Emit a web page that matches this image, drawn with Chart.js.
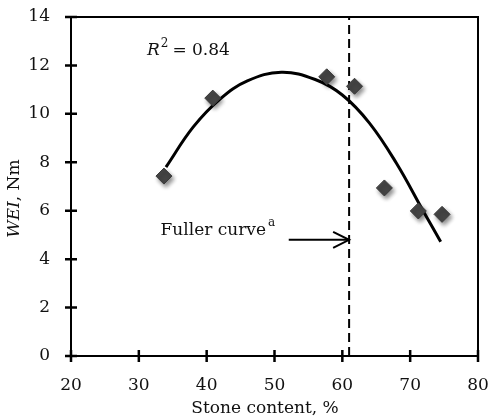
<!DOCTYPE html>
<html>
<head>
<meta charset="utf-8">
<script src="https://cdn.jsdelivr.net/npm/chart.js@4.4.1/dist/chart.umd.min.js"></script>
<style>
  html, body { margin: 0; padding: 0; background: #fff; }
  #wrap { width: 489px; height: 419px; }
</style>
</head>
<body>
<div id="wrap"><canvas id="wei"></canvas></div>
<script>
// measured samples: stone content (%) vs WEI (Nm)
const stoneContent = [33.7, 40.9, 57.7, 61.8, 66.2, 71.2, 74.7];
const weiValues = [7.43, 10.65, 11.53, 11.14, 6.94, 5.99, 5.85];

// second-order trend line, read along its length
const trendX = [34, 38, 42, 46, 51, 56, 60, 64, 68, 72, 74.5];
const trendY = [7.8, 9.45, 10.62, 11.36, 11.72, 11.42, 10.78, 9.62, 7.95, 5.95, 4.72];

// Fuller curve marker
const fullerX = 61;
const arrowFrom = 52.1;
const arrowY = 4.8;

const xTicks = [20, 30, 40, 50, 60, 70, 80];
const yTicks = [0, 2, 4, 6, 8, 10, 12, 14];

const SERIF = '"DejaVu Serif", "Liberation Serif", serif';

const pts = stoneContent.map((x, i) => ({ x: x, y: weiValues[i] }));
const trend = trendX.map((x, i) => ({ x: x, y: trendY[i] }));

// frame, crossing tick marks, arrow head, annotations and axis titles
const decorations = {
  id: 'decorations',
  beforeDatasetDraw(chart, args) {
    if (args.index === 0) {
      const ctx = chart.ctx;
      ctx.save();
      ctx.shadowColor = 'rgba(0,0,0,0.45)';
      ctx.shadowBlur = 4;
      ctx.shadowOffsetX = 2;
      ctx.shadowOffsetY = 3;
    }
  },
  afterDatasetDraw(chart, args) {
    if (args.index === 0) chart.ctx.restore();
  },
  afterDraw(chart) {
    const ctx = chart.ctx;
    const a = chart.chartArea;
    const xs = chart.scales.x, ys = chart.scales.y;
    ctx.save();
    ctx.strokeStyle = '#000';
    ctx.lineWidth = 2;
    ctx.strokeRect(a.left, a.top, a.right - a.left, a.bottom - a.top);

    ctx.lineWidth = 2.5;
    ctx.beginPath();
    yTicks.forEach(v => {
      const py = ys.getPixelForValue(v);
      ctx.moveTo(a.left - 6, py);
      ctx.lineTo(a.left + 6, py);
    });
    xTicks.forEach(v => {
      const px = xs.getPixelForValue(v);
      ctx.moveTo(px, a.bottom - 6);
      ctx.lineTo(px, a.bottom + 6);
    });
    ctx.stroke();

    // open arrow head
    const hx = xs.getPixelForValue(fullerX);
    const hy = ys.getPixelForValue(arrowY);
    ctx.lineWidth = 2;
    ctx.beginPath();
    ctx.moveTo(hx - 16, hy - 8);
    ctx.lineTo(hx, hy);
    ctx.lineTo(hx - 16, hy + 8);
    ctx.stroke();

    ctx.fillStyle = '#111';
    ctx.textBaseline = 'alphabetic';
    ctx.textAlign = 'left';

    // R² label
    let tx = xs.getPixelForValue(31.2);
    let ty = ys.getPixelForValue(12.45);
    ctx.font = 'italic 17px ' + SERIF;
    ctx.fillText('R', tx, ty);
    tx += ctx.measureText('R').width + 1;
    ctx.font = '12px ' + SERIF;
    ctx.fillText('2', tx, ty - 8);
    tx += ctx.measureText('2').width + 4;
    ctx.font = '17px ' + SERIF;
    ctx.fillText('= 0.84', tx, ty);

    // Fuller curve label
    tx = xs.getPixelForValue(33.2);
    ty = ys.getPixelForValue(5.0);
    ctx.font = '17px ' + SERIF;
    ctx.fillText('Fuller curve', tx, ty);
    tx += ctx.measureText('Fuller curve').width + 2;
    ctx.font = '12px ' + SERIF;
    ctx.fillText('a', tx, ty - 9);

    // x axis title
    ctx.font = '17px ' + SERIF;
    ctx.textAlign = 'center';
    ctx.fillText('Stone content, %', xs.getPixelForValue(48.6), a.bottom + 57);

    // y axis title, italic WEI followed by the unit
    ctx.translate(a.left - 52, ys.getPixelForValue(6.5));
    ctx.rotate(-Math.PI / 2);
    ctx.textAlign = 'left';
    ctx.font = 'italic 17px ' + SERIF;
    const w1 = ctx.measureText('WEI').width;
    ctx.font = '17px ' + SERIF;
    const w2 = ctx.measureText(', Nm').width;
    let sx = -(w1 + w2) / 2;
    ctx.font = 'italic 17px ' + SERIF;
    ctx.fillText('WEI', sx, 0);
    ctx.font = '17px ' + SERIF;
    ctx.fillText(', Nm', sx + w1, 0);
    ctx.restore();
  }
};

new Chart(document.getElementById('wei'), {
  type: 'scatter',
  data: {
    datasets: [
      {
        label: 'WEI',
        data: pts,
        pointStyle: 'rectRot',
        pointRadius: 8,
        pointHoverRadius: 8,
        backgroundColor: '#454545',
        borderColor: '#3a3a3a',
        borderWidth: 1
      },
      {
        label: 'trend',
        type: 'line',
        data: trend,
        borderColor: '#000',
        borderWidth: 3,
        pointRadius: 0,
        tension: 0.4,
        fill: false
      },
      {
        label: 'Fuller curve',
        type: 'line',
        data: [{ x: fullerX, y: 0 }, { x: fullerX, y: 14 }],
        borderColor: '#000',
        borderWidth: 2,
        borderDash: [9, 5],
        pointRadius: 0,
        fill: false
      },
      {
        label: 'arrow',
        type: 'line',
        data: [{ x: arrowFrom, y: arrowY }, { x: fullerX, y: arrowY }],
        borderColor: '#000',
        borderWidth: 2,
        pointRadius: 0,
        fill: false
      }
    ]
  },
  options: {
    responsive: true,
    maintainAspectRatio: false,
    animation: false,
    layout: { padding: { top: 17, right: 11, left: 0, bottom: 0 } },
    plugins: {
      legend: { display: false },
      tooltip: { enabled: false }
    },
    scales: {
      x: {
        type: 'linear',
        min: 20,
        max: 80,
        grid: { display: false },
        border: { display: false },
        afterBuildTicks: s => { s.ticks = xTicks.map(v => ({ value: v })); },
        afterFit: s => { s.height = 63; s.paddingLeft = 0; s.paddingRight = 0; },
        ticks: {
          padding: 11,
          color: '#111',
          font: { family: SERIF, size: 17 }
        }
      },
      y: {
        min: 0,
        max: 14,
        grid: { display: false },
        border: { display: false },
        afterBuildTicks: s => { s.ticks = yTicks.map(v => ({ value: v })); },
        afterFit: s => { s.width = 71; s.paddingTop = 0; s.paddingBottom = 0; },
        ticks: {
          padding: 13,
          color: '#111',
          font: { family: SERIF, size: 17 }
        }
      }
    }
  },
  plugins: [decorations]
});
</script>
</body>
</html>
